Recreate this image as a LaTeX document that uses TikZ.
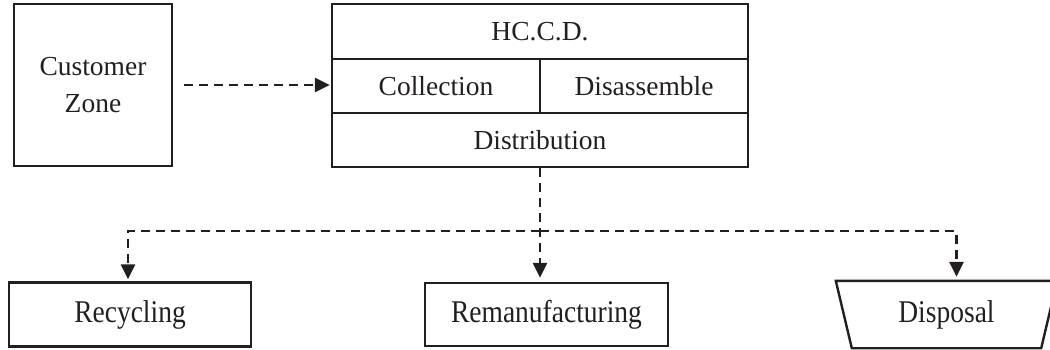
\documentclass[tikz,border=0pt]{standalone}
\usepackage{fontspec}
\setmainfont{Liberation Serif}
\usetikzlibrary{arrows.meta,calc}
\definecolor{ink}{HTML}{231F20}
\tikzset{
  box/.style={draw=ink, line width=2.4pt, rectangle, inner sep=0pt, text=ink,
              font=\fontsize{27.5}{33}\selectfont, align=center},
  flow/.style={draw=ink, line width=2.6pt, dash pattern=on 9pt off 6pt,
               -{Triangle[length=15pt,width=14pt]}},
}
\newcommand{\tallword}[1]{\scalebox{1}[1.15]{#1}}
\begin{document}
\begin{tikzpicture}[x=1pt,y=-1pt]
\useasboundingbox (0,0) rectangle (1050,350);

% source zone
\node[box, minimum width=158pt, minimum height=162pt] (cz) at (93,85)
  {Customer\\[4pt]Zone};

% centre: header, two side-by-side cells, footer
\node[box, minimum width=416pt, minimum height=55pt] (hc) at (540,31.5) {HC.C.D.};
\node[box, minimum width=208pt, minimum height=54pt] (coll) at (436,86) {Collection};
\node[box, minimum width=208pt, minimum height=54pt] (dis) at (644,86) {Disassemble};
\node[box, minimum width=416pt, minimum height=54pt] (distr) at (540,140) {Distribution};

% end-of-life options
\node[box, minimum width=242pt, minimum height=64pt] (rec) at (130,314.5) {\tallword{Recycling}};
\node[box, minimum width=243pt, minimum height=63pt] (rem) at (546.5,314.5) {\tallword{Remanufacturing}};
\node[box, draw=none, minimum width=219pt, minimum height=65pt] (disp) at (946.5,314.5) {\tallword{Disposal}};
\draw[draw=ink, line width=2.4pt, line join=miter]
  (disp.north west) -- (disp.north east)
  -- ([xshift=-16pt]disp.south east) -- ([xshift=16pt]disp.south west) -- cycle;

% connectors
\coordinate (bus) at (540,231);
\draw[flow, shorten <=11pt, shorten >=1pt] (cz.east) -- (cz.east -| coll.west);
\draw[flow, shorten >=4pt] (distr.south) -- (distr.south |- rem.north);
\draw[flow, shorten >=2pt] (bus) -| ([xshift=-2pt]rec.north);
\draw[flow, shorten >=4pt] (bus) -| ([xshift=10pt]disp.north);
\end{tikzpicture}
\end{document}
